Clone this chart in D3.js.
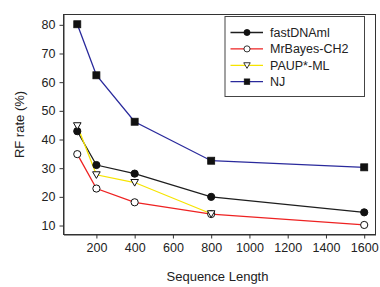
<!DOCTYPE html>
<html><head><meta charset="utf-8">
<script src="https://cdn.jsdelivr.net/npm/d3@7"></script>
<style>body{margin:0;background:#fff}svg{display:block}text{font-family:"Liberation Sans",Arial,sans-serif;fill:#222}</style>
</head><body><svg id="c" width="380" height="287"></svg>
<script>
const seqLengths = [100, 200, 400, 800, 1600];
const fastDNAml = [42.9, 31.1, 28.1, 20.0, 14.6];
const mrBayes = [34.9, 22.9, 18.1, 14.0, 10.2];
const paupML = [44.8, 27.7, 25.0, 14.1, null];
const nj = [80.2, 62.4, 46.2, 32.6, 30.3];
const xTicks = [200, 400, 600, 800, 1000, 1200, 1400, 1600];
const yTicks = [10, 20, 30, 40, 50, 60, 70, 80];
const seriesNames = ["fastDNAml", "MrBayes-CH2", "PAUP*-ML", "NJ"];

const series = [
  {name: seriesNames[0], vals: fastDNAml, color: "#1e1e1e", marker: "circle", fill: "#111"},
  {name: seriesNames[1], vals: mrBayes, color: "#ee2222", marker: "circle", fill: "#fff"},
  {name: seriesNames[2], vals: paupML, color: "#f6e400", marker: "tri", fill: "#fff"},
  {name: seriesNames[3], vals: nj, color: "#2a2a9c", marker: "square", fill: "#111"}
];

const svg = d3.select("#c");
const L = 63.5, R = 375.5, T = 14.5, B = 234.5;
const x = d3.scaleLinear().domain([28, 1659]).range([L, R]);
const y = d3.scaleLinear().domain([6.87, 83.6]).range([B, T]);

svg.append("rect").attr("x", L).attr("y", T).attr("width", R - L).attr("height", B - T)
  .attr("fill", "none").attr("stroke", "#333").attr("stroke-width", 1);

const xAxis = svg.append("g").attr("transform", `translate(0,${B})`)
  .call(d3.axisBottom(x).tickValues(xTicks).tickFormat(d3.format("d")).tickSize(4).tickPadding(5).tickSizeOuter(0));
const yAxis = svg.append("g").attr("transform", `translate(${L},0)`)
  .call(d3.axisLeft(y).tickValues(yTicks).tickFormat(d3.format("d")).tickSize(4).tickPadding(4).tickSizeOuter(0));
[xAxis, yAxis].forEach(a => {
  a.select(".domain").attr("stroke", "#333");
  a.selectAll(".tick line").attr("stroke", "#333");
  a.selectAll(".tick text").attr("font-size", "12.5px").attr("fill", "#222")
    .attr("font-family", '"Liberation Sans",Arial,sans-serif');
});

svg.append("text").attr("x", (L + R) / 2 - 2).attr("y", 281).attr("text-anchor", "middle")
  .attr("font-size", "13px").text("Sequence Length");
svg.append("text").attr("transform", `translate(24,${(T + B) / 2}) rotate(-90)`)
  .attr("text-anchor", "middle").attr("font-size", "13px").text("RF rate (%)");

function drawMarker(g, type, cx, cy, fill) {
  if (type === "circle") {
    g.append("circle").attr("cx", cx).attr("cy", cy).attr("r", 3.6)
      .attr("fill", fill).attr("stroke", "#111").attr("stroke-width", 1);
  } else if (type === "square") {
    g.append("rect").attr("x", cx - 3.5).attr("y", cy - 3.5).attr("width", 7).attr("height", 7)
      .attr("fill", fill).attr("stroke", "#111").attr("stroke-width", 0.8);
  } else {
    g.append("path").attr("d", `M${cx - 3.8},${cy - 3} L${cx + 3.8},${cy - 3} L${cx},${cy + 3.6} Z`)
      .attr("fill", fill).attr("stroke", "#111").attr("stroke-width", 1);
  }
}

const line = d3.line().defined(d => d[1] != null).x(d => x(d[0])).y(d => y(d[1]));
series.forEach(s => {
  const pts = seqLengths.map((v, i) => [v, s.vals[i]]);
  svg.append("path").attr("d", line(pts)).attr("fill", "none")
    .attr("stroke", s.color).attr("stroke-width", 1.3);
});
series.forEach(s => {
  const g = svg.append("g");
  seqLengths.forEach((v, i) => {
    if (s.vals[i] != null) drawMarker(g, s.marker, x(v), y(s.vals[i]), s.fill);
  });
});

const lg = svg.append("g");
lg.append("rect").attr("x", 225).attr("y", 16.5).attr("width", 139.5).attr("height", 80)
  .attr("fill", "#fff").attr("stroke", "#444").attr("stroke-width", 1);
series.forEach((s, i) => {
  const cy = 32.5 + i * 16.4;
  lg.append("line").attr("x1", 230.5).attr("x2", 263).attr("y1", cy).attr("y2", cy)
    .attr("stroke", s.color).attr("stroke-width", 1.3);
  const sc = s.marker === "square" ? 0.8 : 0.85;
  const mg = lg.append("g").attr("transform", `translate(247,${cy}) scale(${sc})`);
  drawMarker(mg, s.marker, 0, 0, s.fill);
  lg.append("text").attr("x", 270).attr("y", cy + 4.5).attr("font-size", "12.5px").text(s.name);
});
</script></body></html>
